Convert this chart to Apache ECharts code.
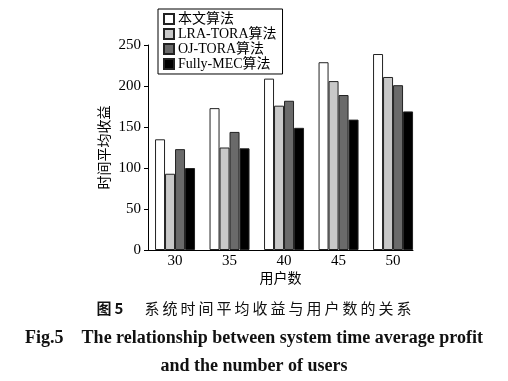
<!DOCTYPE html>
<html><head><meta charset="utf-8">
<script src="https://cdn.jsdelivr.net/npm/echarts@6/dist/echarts.min.js"></script>
<style>html,body{margin:0;padding:0;background:#fff}#c{width:508px;height:381px}</style>
</head><body><div id="c"></div>
<script>
const categories = [30, 35, 40, 45, 50];
const seriesNames = ['本文算法', 'LRA-TORA算法', 'OJ-TORA算法', 'Fully-MEC算法'];
const oursValues = [135, 173, 209, 229, 239];
const lraValues = [93, 125, 176, 206, 211];
const ojValues = [123, 144, 182, 189, 201];
const fullyValues = [100, 124, 149, 159, 169];
const yTicks = [0, 50, 100, 150, 200, 250];
const colors = ['#ffffff', '#c8c8c8', '#6a6a6a', '#000000'];
const allValues = [oursValues, lraValues, ojValues, fullyValues];

const serif = "'Liberation Serif', 'Noto Sans CJK SC', serif";
const cjk = "'Noto Sans CJK SC', sans-serif";
const thin = '\u2009';
const captionCn = '系统时间平均收益与用户数的关系'.split('').join(thin);

const chart = echarts.init(document.getElementById('c'), null, {renderer: 'canvas'});
chart.setOption({
  animation: false,
  backgroundColor: '#fff',
  title: [
    {text: '{a|图' + thin + '5}{c|　' + thin + thin + captionCn + '}', left: 'center', top: 296,
     textStyle: {rich: {
       a: {fontSize: 15, fontWeight: 'bold', color: '#111', fontFamily: cjk},
       c: {fontSize: 15, fontWeight: 'normal', color: '#111', fontFamily: cjk}
     }}},
    {text: 'Fig.5    The relationship between system time average profit', left: 'center', top: 324,
     textStyle: {fontSize: 18, fontWeight: 'bold', color: '#111', fontFamily: serif}},
    {text: 'and the number of users', left: 'center', top: 352,
     textStyle: {fontSize: 18, fontWeight: 'bold', color: '#111', fontFamily: serif}}
  ],
  legend: {
    orient: 'vertical', left: 158, top: 9,
    data: seriesNames,
    itemWidth: 10, itemHeight: 10, itemGap: 1,
    padding: [3, 6, 3, 5],
    borderColor: '#000', borderWidth: 1, backgroundColor: '#fff',
    icon: 'rect',
    textStyle: {fontSize: 14, color: '#000', fontFamily: serif, padding: [0, 0, 0, -1]}
  },
  grid: {left: 148, right: 95, top: 45, bottom: 131, containLabel: false},
  xAxis: {
    type: 'value', min: 27.52, max: 51.83,
    name: '用户数', nameLocation: 'middle', nameGap: 21, nameMoveOverlap: false,
    nameTextStyle: {fontSize: 14, color: '#000', fontFamily: cjk},
    axisLine: {show: true, lineStyle: {color: '#000', width: 1}},
    axisTick: {show: false},
    splitLine: {show: false},
    axisLabel: {customValues: categories, fontSize: 15, color: '#000', fontFamily: serif, margin: 4}
  },
  yAxis: {
    type: 'value', min: 0, max: 250, interval: 50,
    name: '时间平均收益', nameLocation: 'middle', nameGap: 37, nameRotate: 90, nameMoveOverlap: false,
    nameTextStyle: {fontSize: 14, color: '#000', fontFamily: cjk},
    axisLine: {show: true, lineStyle: {color: '#000', width: 1}},
    axisTick: {show: true, length: 4, lineStyle: {color: '#000'}},
    splitLine: {show: false},
    axisLabel: {customValues: yTicks, fontSize: 15, color: '#000', fontFamily: serif, margin: 7}
  },
  series: seriesNames.map((name, i) => ({
    name: name, type: 'bar', barWidth: 10, barGap: '0%',
    data: categories.map((c, j) => [c, allValues[i][j]]),
    itemStyle: {color: colors[i], borderColor: '#222', borderWidth: 1}
  }))
});
</script></body></html>
